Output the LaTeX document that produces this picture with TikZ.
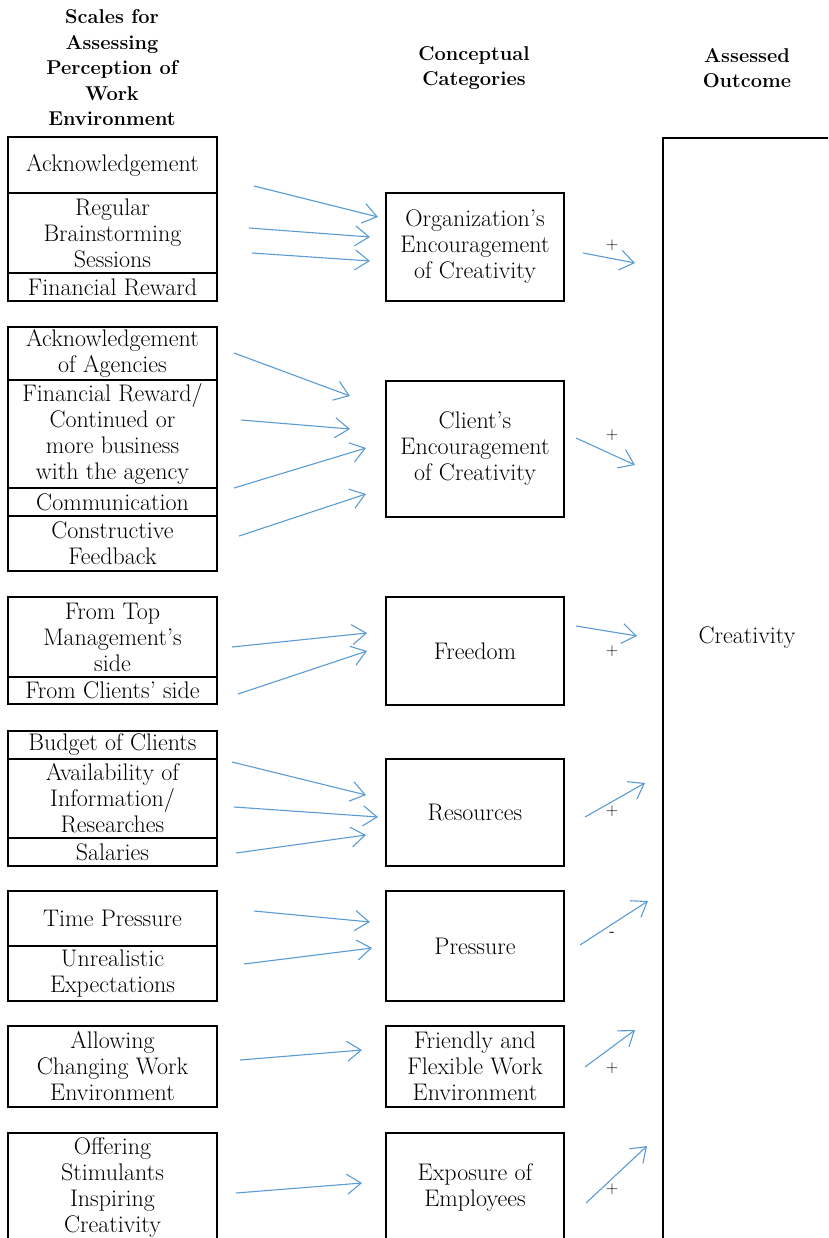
\documentclass[tikz,border=0pt]{standalone}
\usetikzlibrary{arrows.meta}
\definecolor{arrowblue}{HTML}{5B9BD5}
\begin{document}
\begin{tikzpicture}[x=1pt,y=-1pt,
  txt/.style={font=\fontsize{24}{26}\selectfont},
  cell/.style={txt,draw=black,line width=2pt,minimum width=209pt,inner sep=1pt,align=center},
  cat/.style={txt,draw=black,line width=2pt,minimum width=178pt,inner sep=1pt,align=center},
  head/.style={align=center,font=\fontsize{20}{25.5}\selectfont\bfseries},
  conn/.style={draw=arrowblue,line width=1.1pt,-{Straight Barb[length=14pt,width=20pt,line width=1.1pt]}},
  sign/.style={font=\fontsize{17}{18}\selectfont\sffamily,inner sep=0pt}]
\useasboundingbox (0,0) rectangle (828,1238);
\clip (0,0) rectangle (828,1238);
% headers
\node[head] (h1) at (112,68) {Scales for\\Assessing\\Perception of\\Work\\Environment};
\node[head] (h2) at (474,68) {Conceptual\\Categories};
\node[head] (h3) at (747,68) {Assessed\\Outcome};
% outcome box
\node[draw=black,line width=2pt,minimum width=240pt,minimum height=1200pt,anchor=north west,inner sep=0pt] (out) at (662,137) {};
\node[txt] (crea) at (747,638) {Creativity};
% group 1
\node[cell,minimum height=56pt] (a1) at (112.5,165) {Acknowledgement};
\node[cell,minimum height=80pt] (a2) at (112.5,233) {Regular\\Brainstorming\\Sessions};
\node[cell,minimum height=28pt] (a3) at (112.5,287) {Financial Reward};
\node[cat,minimum height=108pt] (c1) at (475,247) {Organization’s\\Encouragement\\of Creativity};
% group 2
\node[cell,minimum height=53pt] (b1) at (112.5,353.5) {Acknowledgement\\of Agencies};
\node[cell,minimum height=108pt] (b2) at (112.5,434) {Financial Reward/\\Continued or\\more business\\with the agency};
\node[cell,minimum height=28pt] (b3) at (112.5,502) {Communication};
\node[cell,minimum height=55pt] (b4) at (112.5,543.5) {Constructive\\Feedback};
\node[cat,minimum height=136pt] (c2) at (475,449) {Client’s\\Encouragement\\of Creativity};
% group 3
\node[cell,minimum height=80pt] (d1) at (112.5,637) {From Top\\Management's\\side};
\node[cell,minimum height=27pt] (d2) at (112.5,690.5) {From Clients' side};
\node[cat,minimum height=108pt] (c3) at (475,651) {Freedom};
% group 4
\node[cell,minimum height=28pt] (e1) at (112.5,745) {Budget of Clients};
\node[cell,minimum height=79pt] (e2) at (112.5,798.5) {Availability of\\Information/\\Researches};
\node[cell,minimum height=28pt] (e3) at (112.5,852) {Salaries};
\node[cat,minimum height=107pt] (c4) at (475,812.5) {Resources};
% group 5
\node[cell,minimum height=55pt] (f1) at (112.5,918.5) {Time Pressure};
\node[cell,minimum height=55pt] (f2) at (112.5,973.5) {Unrealistic\\Expectations};
\node[cat,minimum height=110pt] (c5) at (475,946) {Pressure};
% group 6
\node[cell,minimum height=81pt] (g1) at (112.5,1066.5) {Allowing\\Changing Work\\Environment};
\node[cat,minimum height=81pt] (c6) at (475,1066.5) {Friendly and\\Flexible Work\\Environment};
% group 7
\node[cell,minimum height=108pt] (k1) at (112.5,1187) {Offering\\Stimulants\\Inspiring\\Creativity};
\node[cat,minimum height=108pt] (c7) at (475,1187) {Exposure of\\Employees};
% arrow coordinates
\coordinate (s11) at (254,186); \coordinate (t11) at (378,217);
\coordinate (s12) at (249,228); \coordinate (t12) at (370,237);
\coordinate (s13) at (252,253); \coordinate (t13) at (370,261);
\coordinate (o1s) at (583,253); \coordinate (o1t) at (635,263);
\coordinate (s21) at (234,353); \coordinate (t21) at (350,396);
\coordinate (s22) at (241,420); \coordinate (t22) at (350,429);
\coordinate (s23) at (234,488); \coordinate (t23) at (366,448);
\coordinate (s24) at (239,536); \coordinate (t24) at (366,494);
\coordinate (o2s) at (576,438); \coordinate (o2t) at (635,465);
\coordinate (s31) at (232,647); \coordinate (t31) at (367,633);
\coordinate (s32) at (238,694); \coordinate (t32) at (367,651);
\coordinate (o3s) at (576,626); \coordinate (o3t) at (637,636);
\coordinate (s41) at (232,762); \coordinate (t41) at (366,795);
\coordinate (s42) at (234,807); \coordinate (t42) at (378,817);
\coordinate (s43) at (236,853); \coordinate (t43) at (366,835);
\coordinate (o4s) at (585,817); \coordinate (o4t) at (645,783);
\coordinate (s51) at (254,911); \coordinate (t51) at (370,922);
\coordinate (s52) at (244,964); \coordinate (t52) at (372,948);
\coordinate (o5s) at (580,945); \coordinate (o5t) at (648,901);
\coordinate (s61) at (240,1060); \coordinate (t61) at (362,1050);
\coordinate (o6s) at (585,1067); \coordinate (o6t) at (635,1030);
\coordinate (s71) at (236,1193); \coordinate (t71) at (362,1183);
\coordinate (o7s) at (586,1203); \coordinate (o7t) at (647,1146);
\foreach \p in {11,12,13,21,22,23,24,31,32,41,42,43,51,52,61,71}
  \draw[conn] (s\p) -- (t\p);
\foreach \p in {1,...,7}
  \draw[conn] (o\p s) -- (o\p t);
% signs
\node[sign] (p1) at (612,245) {+};
\node[sign] (p2) at (612,435) {+};
\node[sign] (p3) at (612,651) {+};
\node[sign] (p4) at (612,811) {+};
\node[sign] (p5) at (612,934) {-};
\node[sign] (p6) at (612,1068) {+};
\node[sign] (p7) at (612,1189) {+};
\end{tikzpicture}
\end{document}
